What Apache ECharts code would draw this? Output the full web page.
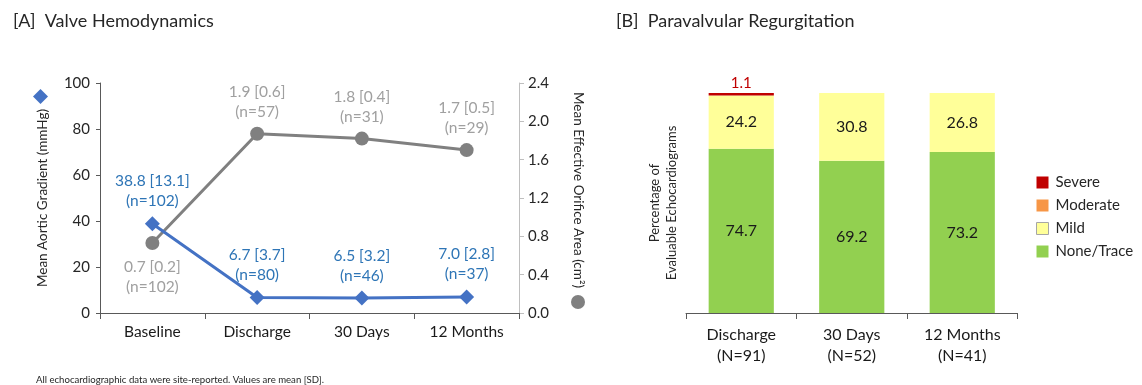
<!DOCTYPE html>
<html>
<head>
<meta charset="utf-8">
<script src="https://cdn.jsdelivr.net/npm/echarts@6/dist/echarts.min.js"></script>
<style>
html,body{margin:0;padding:0;background:#fff;}
#c{width:1142px;height:385px;}
</style>
</head>
<body>
<div id="c"></div>
<script>
// ---- Panel A data ----
var timepoints = ['Baseline', 'Discharge', '30 Days', '12 Months'];
var gradientMean = [38.8, 6.7, 6.5, 7.0];
var gradientSD = [13.1, 3.7, 3.2, 2.8];
var gradientN = [102, 80, 46, 37];
var eoaMean = [0.73, 1.87, 1.82, 1.70];
var eoaSD = [0.2, 0.6, 0.4, 0.5];
var eoaN = [102, 57, 31, 29];
var gradientTicks = [0, 20, 40, 60, 80, 100];
var eoaTicks = [0.0, 0.4, 0.8, 1.2, 1.6, 2.0, 2.4];

// ---- Panel B data ----
var pvrCategories = ['Discharge', '30 Days', '12 Months'];
var pvrN = [91, 52, 41];
var noneTrace = [74.7, 69.2, 73.2];
var mild = [24.2, 30.8, 26.8];
var moderate = [0, 0, 0];
var severe = [1.1, 0, 0];

var FONT = 'Lato, "Open Sans", sans-serif';
var BLUE = '#4472C4', BLUE_TXT = '#2E75B6', GRAY = '#808080', GRAY_TXT = '#A0A0A0';

var chart = echarts.init(document.getElementById('c'));

var gradData = gradientMean.map(function (v, i) {
  return { value: v, label: { position: 'top', distance: 5 } };
});
var eoaData = eoaMean.map(function (v, i) {
  return { value: v, label: { position: i === 0 ? 'bottom' : 'top', distance: i === 0 ? 7 : 5 } };
});

var option = {
  animation: false,
  textStyle: { fontFamily: FONT },
  title: [
    { text: '[A]  Valve Hemodynamics', left: 8, top: 7, textStyle: { fontSize: 18, fontWeight: 'normal', color: '#262626', fontFamily: FONT } },
    { text: '[B]  Paravalvular Regurgitation', left: 611, top: 7, textStyle: { fontSize: 18, fontWeight: 'normal', color: '#262626', fontFamily: FONT } },
    { text: 'All echocardiographic data were site-reported. Values are mean [SD].', left: 31, top: 370, textStyle: { fontSize: 9.6, fontWeight: 'normal', color: '#262626', fontFamily: FONT } }
  ],
  legend: [
    { data: [{ name: 'Gradient', icon: 'diamond' }], left: 33, top: 89, itemWidth: 15, itemHeight: 15, formatter: function () { return ''; }, selectedMode: false, padding: 0 },
    { data: [{ name: 'EOA', icon: 'circle' }], left: 571, top: 295, itemWidth: 14, itemHeight: 14, formatter: function () { return ''; }, selectedMode: false, padding: 0 },
    {
      data: [
        { name: 'Severe', icon: 'rect' },
        { name: 'Moderate', icon: 'rect' },
        { name: 'Mild', icon: 'rect', itemStyle: { borderColor: '#A6A6A6', borderWidth: 1 } },
        { name: 'None/Trace', icon: 'rect' }
      ],
      orient: 'vertical', left: 1036, top: 175, itemWidth: 12, itemHeight: 12, itemGap: 8, padding: 0,
      selectedMode: false,
      textStyle: { fontSize: 15, color: '#262626', fontFamily: FONT, padding: [0, 0, 0, 2] }
    }
  ],
  grid: [
    { left: 100, right: 623, top: 83, bottom: 72 },
    { left: 686, right: 124.5, top: 93, bottom: 72 }
  ],
  xAxis: [
    {
      type: 'category', gridIndex: 0, data: timepoints, boundaryGap: true,
      axisLine: { lineStyle: { color: '#595959', width: 1 } },
      axisTick: { show: true, length: 6, lineStyle: { color: '#595959' } },
      axisLabel: { fontSize: 15.5, color: '#1a1a1a', margin: 11, fontFamily: FONT }
    },
    {
      type: 'category', gridIndex: 1, data: pvrCategories, boundaryGap: true,
      axisLine: { lineStyle: { color: '#595959', width: 1 } },
      axisTick: { show: true, length: 6, lineStyle: { color: '#595959' } },
      axisLabel: {
        fontSize: 16, color: '#1a1a1a', margin: 11, lineHeight: 21, fontFamily: FONT,
        formatter: function (v, i) { return v + '\n(N=' + pvrN[i] + ')'; }
      }
    }
  ],
  yAxis: [
    {
      type: 'value', gridIndex: 0, min: 0, max: 100, interval: 20, position: 'left',
      name: 'Mean Aortic Gradient (mmHg)', nameLocation: 'middle', nameGap: 50,
      nameTextStyle: { fontSize: 13.5, color: '#262626', fontFamily: FONT },
      axisLine: { show: true, lineStyle: { color: '#595959' } },
      axisTick: { show: true, length: 4, lineStyle: { color: '#595959' } },
      axisLabel: { fontSize: 15, color: '#262626', margin: 10, fontFamily: FONT },
      splitLine: { show: false }
    },
    {
      type: 'value', gridIndex: 0, min: 0, max: 2.4, interval: 0.4, position: 'right',
      name: 'Mean Effective Orifice Area (cm²)', nameLocation: 'middle', nameGap: 52, nameRotate: -90,
      nameTextStyle: { fontSize: 13.5, color: '#262626', fontFamily: FONT, padding: [0, 16, 0, 0] },
      axisLine: { show: true, lineStyle: { color: '#BFBFBF' } },
      axisTick: { show: true, length: 5, lineStyle: { color: '#BFBFBF' } },
      axisLabel: { fontSize: 15, color: '#262626', margin: 9, fontFamily: FONT, formatter: function (v) { return v.toFixed(1); } },
      splitLine: { show: false }
    },
    {
      type: 'value', gridIndex: 1, min: 0, max: 100,
      name: 'Percentage of\nEvaluable Echocardiograms', nameLocation: 'middle', nameGap: 6,
      nameTextStyle: { fontSize: 13, color: '#262626', lineHeight: 17, fontFamily: FONT },
      axisLine: { show: false }, axisTick: { show: false }, axisLabel: { show: false }, splitLine: { show: false }
    }
  ],
  series: [
    {
      name: 'EOA', type: 'line', xAxisIndex: 0, yAxisIndex: 1, data: eoaData,
      symbol: 'circle', symbolSize: 14, z: 2,
      lineStyle: { color: GRAY, width: 3 }, itemStyle: { color: GRAY },
      label: {
        show: true, fontSize: 15.5, lineHeight: 20, color: GRAY_TXT, fontFamily: FONT,
        formatter: function (p) { return p.value.toFixed(1) + ' [' + eoaSD[p.dataIndex].toFixed(1) + ']\n(n=' + eoaN[p.dataIndex] + ')'; }
      }
    },
    {
      name: 'Gradient', type: 'line', xAxisIndex: 0, yAxisIndex: 0, data: gradData,
      symbol: 'diamond', symbolSize: 15, z: 3,
      lineStyle: { color: BLUE, width: 3 }, itemStyle: { color: BLUE },
      label: {
        show: true, fontSize: 15.5, lineHeight: 20, color: BLUE_TXT, fontFamily: FONT,
        formatter: function (p) { return p.value.toFixed(1) + ' [' + gradientSD[p.dataIndex].toFixed(1) + ']\n(n=' + gradientN[p.dataIndex] + ')'; }
      }
    },
    {
      name: 'None/Trace', type: 'bar', xAxisIndex: 1, yAxisIndex: 2, stack: 'pvr', data: noneTrace,
      barWidth: '59%', itemStyle: { color: '#92D050' },
      label: { show: true, position: 'inside', fontSize: 16, color: '#1a1a1a', fontFamily: FONT, formatter: function (p) { return p.value.toFixed(1); } }
    },
    {
      name: 'Mild', type: 'bar', xAxisIndex: 1, yAxisIndex: 2, stack: 'pvr', data: mild,
      itemStyle: { color: '#FFFF99' },
      label: { show: true, position: 'inside', fontSize: 16, color: '#1a1a1a', fontFamily: FONT, formatter: function (p) { return p.value.toFixed(1); } }
    },
    {
      name: 'Moderate', type: 'bar', xAxisIndex: 1, yAxisIndex: 2, stack: 'pvr', data: moderate,
      itemStyle: { color: '#F79646' }
    },
    {
      name: 'Severe', type: 'bar', xAxisIndex: 1, yAxisIndex: 2, stack: 'pvr', data: severe,
      itemStyle: { color: '#C00000' },
      label: { show: true, position: 'top', distance: 2, fontSize: 15, color: '#C00000', fontFamily: FONT, formatter: function (p) { return p.value > 0 ? p.value.toFixed(1) : ''; } }
    }
  ]
};
chart.setOption(option);
</script>
</body>
</html>
